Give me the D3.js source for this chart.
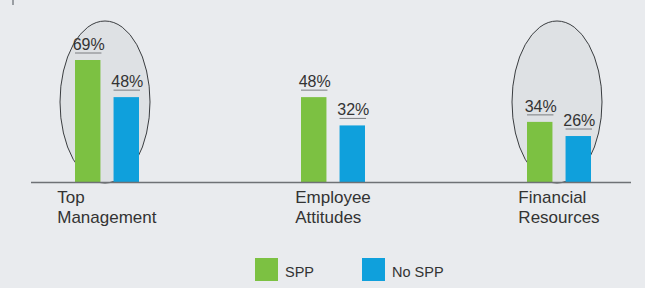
<!DOCTYPE html>
<html lang="en">
<head>
  <meta charset="UTF-8" />
  <title>SPP vs No SPP</title>
  <script src="https://d3js.org/d3.v7.min.js"></script>
  <style>
    body { margin: 0; background: #e9ebee; font-family: Arial, "Liberation Sans", sans-serif; overflow: hidden; }
    svg { display: block; }
    .val { font-size: 16px; fill: #333; text-anchor: middle; }
    .cat { font-size: 17px; fill: #333; }
    .leg { font-size: 14.5px; fill: #333; }
  </style>
</head>
<body>
<svg width="645" height="288"></svg>
<script>
  const categories = [["Top", "Management"], ["Employee", "Attitudes"], ["Financial", "Resources"]];
  const series = ["SPP", "No SPP"];
  const spp = [69, 48, 34];
  const noSpp = [48, 32, 26];
  const circled = [0, 2];

  const colors = { "SPP": "#7cc142", "No SPP": "#0fa0dc" };
  const width = 645, height = 288;
  const baseY = 182;

  const svg = d3.select("svg");

  // tiny mark at top left
  svg.append("rect").attr("x", 12).attr("y", 0).attr("width", 2).attr("height", 5).attr("fill", "#9a9ea3");

  const x0 = d3.scaleBand().domain(d3.range(categories.length)).range([-6, 672]).paddingInner(0).paddingOuter(0);
  const x1 = d3.scaleBand().domain(series).range([-32, 32]).paddingInner(0.34).paddingOuter(0);
  const y = d3.scaleLinear().domain([0, 69]).range([baseY, 60]);

  const rows = categories.map((c, i) => ({ i, c, vals: [{ s: "SPP", v: spp[i] }, { s: "No SPP", v: noSpp[i] }] }));

  // ellipses behind bars
  svg.selectAll(".ell").data(circled).join("ellipse")
    .attr("cx", i => x0(i) + x0.bandwidth() / 2 - 2)
    .attr("cy", 102)
    .attr("rx", 45)
    .attr("ry", 81)
    .attr("fill", "#d6d9dd")
    .attr("fill-opacity", 0.55)
    .attr("stroke", "#3a3d40")
    .attr("stroke-width", 1);

  const g = svg.selectAll(".grp").data(rows).join("g")
    .attr("transform", d => `translate(${x0(d.i) + x0.bandwidth() / 2},0)`);

  const bar = g.selectAll(".b").data(d => d.vals).join("g");

  bar.append("rect")
    .attr("x", d => x1(d.s))
    .attr("y", d => y(d.v))
    .attr("width", x1.bandwidth())
    .attr("height", d => baseY - y(d.v))
    .attr("fill", d => colors[d.s]);

  bar.append("line")
    .attr("x1", d => x1(d.s))
    .attr("x2", d => x1(d.s) + x1.bandwidth() + 1)
    .attr("y1", d => y(d.v) - 7)
    .attr("y2", d => y(d.v) - 7)
    .attr("stroke", "#7a7d80")
    .attr("stroke-width", 1);

  bar.append("text")
    .attr("class", "val")
    .attr("x", d => x1(d.s) + x1.bandwidth() / 2 + 1)
    .attr("y", d => y(d.v) - 10)
    .text(d => d.v + "%");

  // axis line
  svg.append("line")
    .attr("x1", 31).attr("x2", 631)
    .attr("y1", baseY + 0.5).attr("y2", baseY + 0.5)
    .attr("stroke", "#6e7175").attr("stroke-width", 1.5);

  // category labels: left-aligned block centred under the group
  g.each(function(d) {
    const t = d3.select(this).append("text").attr("class", "cat");
    d.c.forEach((line, k) => {
      t.append("tspan").attr("x", 0).attr("y", 203 + k * 20).text(line);
    });
    const w = t.node().getBBox().width;
    t.attr("transform", `translate(${-w / 2},0)`);
  });

  // legend
  const legX = [255, 362];
  const leg = svg.selectAll(".lg").data(series).join("g")
    .attr("transform", (d, i) => `translate(${legX[i]},258)`);
  leg.append("rect").attr("width", 23).attr("height", 23).attr("fill", d => colors[d]);
  leg.append("text").attr("class", "leg").attr("x", 30).attr("y", 19).text(d => d);
</script>
</body>
</html>
